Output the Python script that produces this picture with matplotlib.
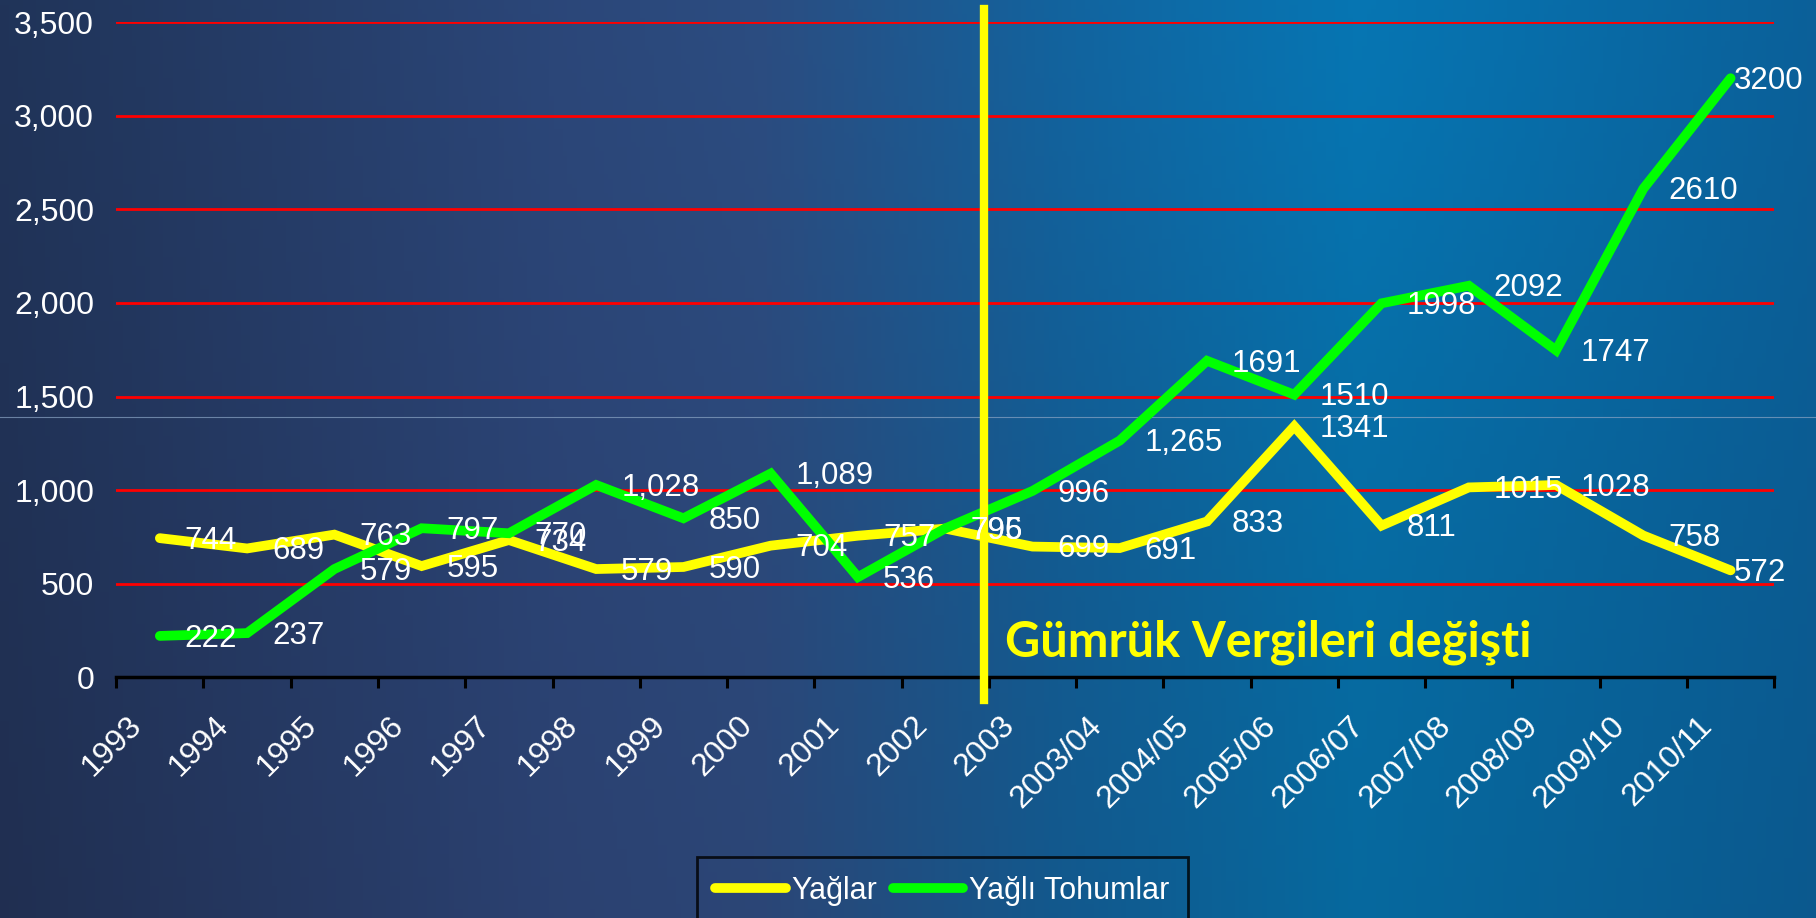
import matplotlib
matplotlib.use('Agg')
import matplotlib.pyplot as plt
import matplotlib.transforms as mtransforms
from matplotlib.colors import LinearSegmentedColormap
from matplotlib.lines import Line2D
import numpy as np

# veriler
years = ['1993', '1994', '1995', '1996', '1997', '1998', '1999', '2000', '2001', '2002',
         '2003', '2003/04', '2004/05', '2005/06', '2006/07', '2007/08', '2008/09',
         '2009/10', '2010/11']
yaglar = [744, 689, 763, 595, 734, 579, 590, 704, 757, 795,
          699, 691, 833, 1341, 811, 1015, 1028, 758, 572]
tohumlar = [222, 237, 579, 797, 770, 1028, 850, 1089, 536, 796,
            996, 1265, 1691, 1510, 1998, 2092, 1747, 2610, 3200]
# bazı etiketler binlik ayraçlı yazılmış
yaglar_lbl = [str(v) for v in yaglar]
tohumlar_lbl = ['222', '237', '579', '797', '770', '1,028', '850', '1,089', '536', '796',
                '996', '1,265', '1691', '1510', '1998', '2092', '1747', '2610', '3200']
yticks = [0, 500, 1000, 1500, 2000, 2500, 3000, 3500]
change_at = 9.45   # gümrük vergisi değişikliği

plt.rcParams['font.family'] = ['Liberation Sans', 'DejaVu Sans']

fig = plt.figure(figsize=(18.16, 9.18), dpi=100)

# arka plan gradyanı
bg = fig.add_axes([0, 0, 1, 1], zorder=-10)
nx, ny = 400, 200
xs = np.linspace(0, 1, nx)
cmap = LinearSegmentedColormap.from_list('bg', [
    (0.0, '#203459'), (0.3, '#2b4678'), (0.42, '#2b4b7e'), (0.58, '#135d94'),
    (0.75, '#066ea6'), (1.0, '#0b5e96')])
rgb = cmap(xs)[:, :3]
img = np.tile(rgb[None, :, :], (ny, 1, 1))
yy, xx = np.mgrid[0:1:ny * 1j, 0:1:nx * 1j]
glow = np.exp(-(((xx - 0.72) / 0.25) ** 2 + (yy / 0.45) ** 2))
img = img + glow[..., None] * np.array([0.0, 0.03, 0.05]) - (yy[..., None] * np.array([0.0, 0.02, 0.03]))
img = np.clip(img, 0, 1)
bg.imshow(img, aspect='auto', extent=[0, 1, 0, 1], origin='upper')
bg.axis('off')
bg.add_line(Line2D([0, 1], [1 - 417 / 918] * 2, color='#8aa4c4', lw=0.8, alpha=0.7,
                   transform=bg.transAxes))

ax = fig.add_axes([0.064, 0.262, 0.913, 0.714])
ax.set_facecolor('none')
x = np.arange(len(years))

for y in yticks[1:]:
    ax.axhline(y, color='#ff0000', lw=2.0, zorder=1)

ax.plot(x, yaglar, color='#ffff00', lw=7, solid_capstyle='round', solid_joinstyle='miter',
        label='Yağlar', zorder=3)
ax.plot(x, tohumlar, color='#00ff00', lw=7, solid_capstyle='round', solid_joinstyle='miter',
        label='Yağlı Tohumlar', zorder=3)

for i in range(len(years)):
    dx = 18 if i < len(years) - 1 else 2
    ax.annotate(yaglar_lbl[i], (x[i], yaglar[i]), xytext=(dx, -2), textcoords='offset points',
                color='white', fontsize=22.5, va='center', ha='left', zorder=5)
    ax.annotate(tohumlar_lbl[i], (x[i], tohumlar[i]), xytext=(dx, -2), textcoords='offset points',
                color='white', fontsize=22.5, va='center', ha='left', zorder=5)

ax.plot([change_at, change_at], [-0.035, 1.02], color='#ffff00', lw=6,
        transform=ax.get_xaxis_transform(), clip_on=False, zorder=4)
ax.text(0.536, 0.054, 'Gümrük Vergileri değişti', transform=ax.transAxes,
        color='#ffff00', fontsize=35, fontweight='bold', family=['Lato', 'DejaVu Sans'],
        ha='left', va='center', zorder=5)

ax.set_xlim(-0.5, len(years) - 0.5)
ax.set_ylim(0, 3500)
ax.set_yticks(yticks)
ax.set_yticklabels([f'{v:,}' for v in yticks], color='white', fontsize=23)
ax.tick_params(axis='y', length=0, pad=16)
ax.set_xticks(np.arange(len(years) + 1) - 0.5, minor=True)
ax.set_xticks(x)
ax.set_xticklabels(years, rotation=45, ha='right', va='top', color='white', fontsize=23)
ax.tick_params(axis='x', which='major', length=0, pad=24)
ax.tick_params(axis='x', which='minor', length=8, width=2.2, color='black', direction='out')
offset = mtransforms.ScaledTranslation(-12 / 100, 0, fig.dpi_scale_trans)
for lbl in ax.get_xticklabels():
    lbl.set_transform(lbl.get_transform() + offset)

for s in ['top', 'right', 'left']:
    ax.spines[s].set_visible(False)
ax.spines['bottom'].set_color('black')
ax.spines['bottom'].set_linewidth(2.5)

leg = fig.legend(loc='upper center', bbox_to_anchor=(0.519, 0.066), ncol=2, fontsize=22,
                 frameon=True, fancybox=False, handlelength=2.3, handletextpad=0.2,
                 columnspacing=0.5, borderpad=0.6, borderaxespad=0, labelcolor='white')
leg.get_frame().set_facecolor('none')
leg.get_frame().set_edgecolor('black')
leg.get_frame().set_linewidth(2)

fig.savefig('out.png', dpi=100)
